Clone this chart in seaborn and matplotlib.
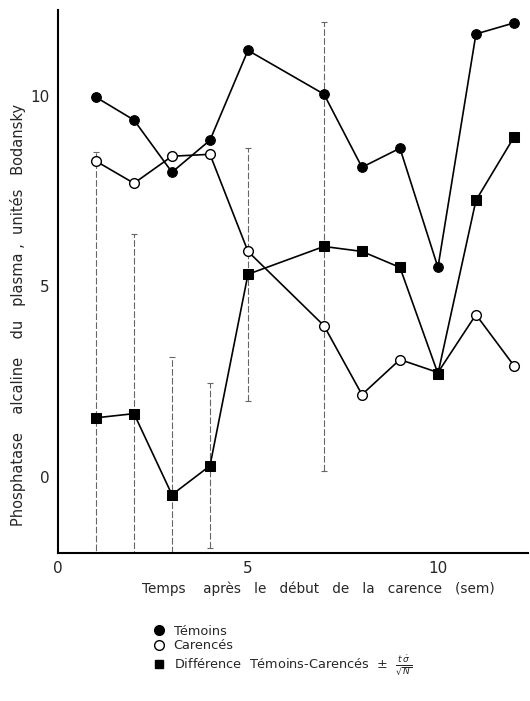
import matplotlib
matplotlib.use("Agg")
import matplotlib.pyplot as plt
from matplotlib.lines import Line2D
import seaborn as sns
import pandas as pd
import numpy as np

weeks = [1, 2, 3, 4, 5, 7, 8, 9, 10, 11, 12]
temoins = [9.97, 9.37, 8.0, 8.84, 11.2, 10.05, 8.13, 8.63, 5.5, 11.63, 11.92]
carences = [8.29, 7.71, 8.42, 8.47, 5.92, 3.97, 2.16, 3.08, 2.74, 4.26, 2.92]
difference = [1.55, 1.66, -0.47, 0.29, 5.32, 6.05, 5.92, 5.5, 2.71, 7.26, 8.92]
err_weeks = [1, 2, 3, 4, 5, 7]
err_center = [1.55, 1.66, -0.47, 0.29, 5.32, 6.05]
err_size = [6.98, 4.71, 3.63, 2.17, 3.32, 5.9]

label_t = "Témoins"
label_c = "Carencés"
label_d = r"Différence  Témoins-Carencés  $\pm\ \ \frac{t\,\dot{\sigma}}{\sqrt{N}}$"
xlabel = "Temps    après   le   début   de   la   carence   (sem)"
ylabel = "Phosphatase    alcaline    du   plasma ,  unités   Bodansky"

sns.set_style("white")
plt.rcParams['font.family'] = ['DejaVu Sans']

fig = plt.figure(figsize=(5.30, 7.01), dpi=100)
ax = fig.add_axes([58/530, 1-553/701, (528-58)/530, (553-10)/701])

df = pd.DataFrame({"sem": weeks, "t": temoins, "c": carences, "d": difference})

eb = ax.errorbar(err_weeks, err_center, yerr=err_size, fmt='none', ecolor='0.4',
                 elinewidth=0.8, capsize=2.5, capthick=0.8, zorder=1)
eb[2][0].set_linestyle((0, (6, 2)))

sns.lineplot(data=df, x="sem", y="t", ax=ax, color='black', lw=1.2,
             marker='o', markersize=7, markerfacecolor='black',
             markeredgecolor='black', zorder=3)
sns.lineplot(data=df, x="sem", y="c", ax=ax, color='black', lw=1.2,
             marker='o', markersize=7, markerfacecolor='white',
             markeredgecolor='black', markeredgewidth=1.0, zorder=3)
sns.lineplot(data=df, x="sem", y="d", ax=ax, color='black', lw=1.2,
             marker='s', markersize=6.5, markerfacecolor='black',
             markeredgecolor='black', zorder=4)

ax.set_xlim(0, 12.37)
ax.set_ylim(-2.0, 12.26)
ax.set_xticks([0, 5, 10])
ax.set_yticks([0, 5, 10])
ax.tick_params(direction='in', length=5, width=1, labelsize=11, pad=6)
for s in ['top', 'right']:
    ax.spines[s].set_visible(False)
for s in ['left', 'bottom']:
    ax.spines[s].set_color('black')
    ax.spines[s].set_linewidth(1.5)
ax.set_xlabel("")
ax.set_ylabel("")

fig.text(318/530, 1-589/701, xlabel, ha='center', va='center', fontsize=9.8)
fig.text(18/530, 1-315/701, ylabel, ha='center', va='center', rotation=90, fontsize=10.5)

handles = [
    Line2D([], [], ls='none', marker='o', ms=7, mfc='black', mec='black'),
    Line2D([], [], ls='none', marker='o', ms=7, mfc='white', mec='black'),
    Line2D([], [], ls='none', marker='s', ms=6, mfc='black', mec='black'),
]
fig.legend(handles, [label_t, label_c, label_d], loc='upper left',
           bbox_to_anchor=(153/530, 1-625/701), frameon=False, fontsize=9.3,
           handletextpad=0.6, labelspacing=0.1, handlelength=1.0,
           borderpad=0, borderaxespad=0)

fig.savefig("out.png", dpi=100)
